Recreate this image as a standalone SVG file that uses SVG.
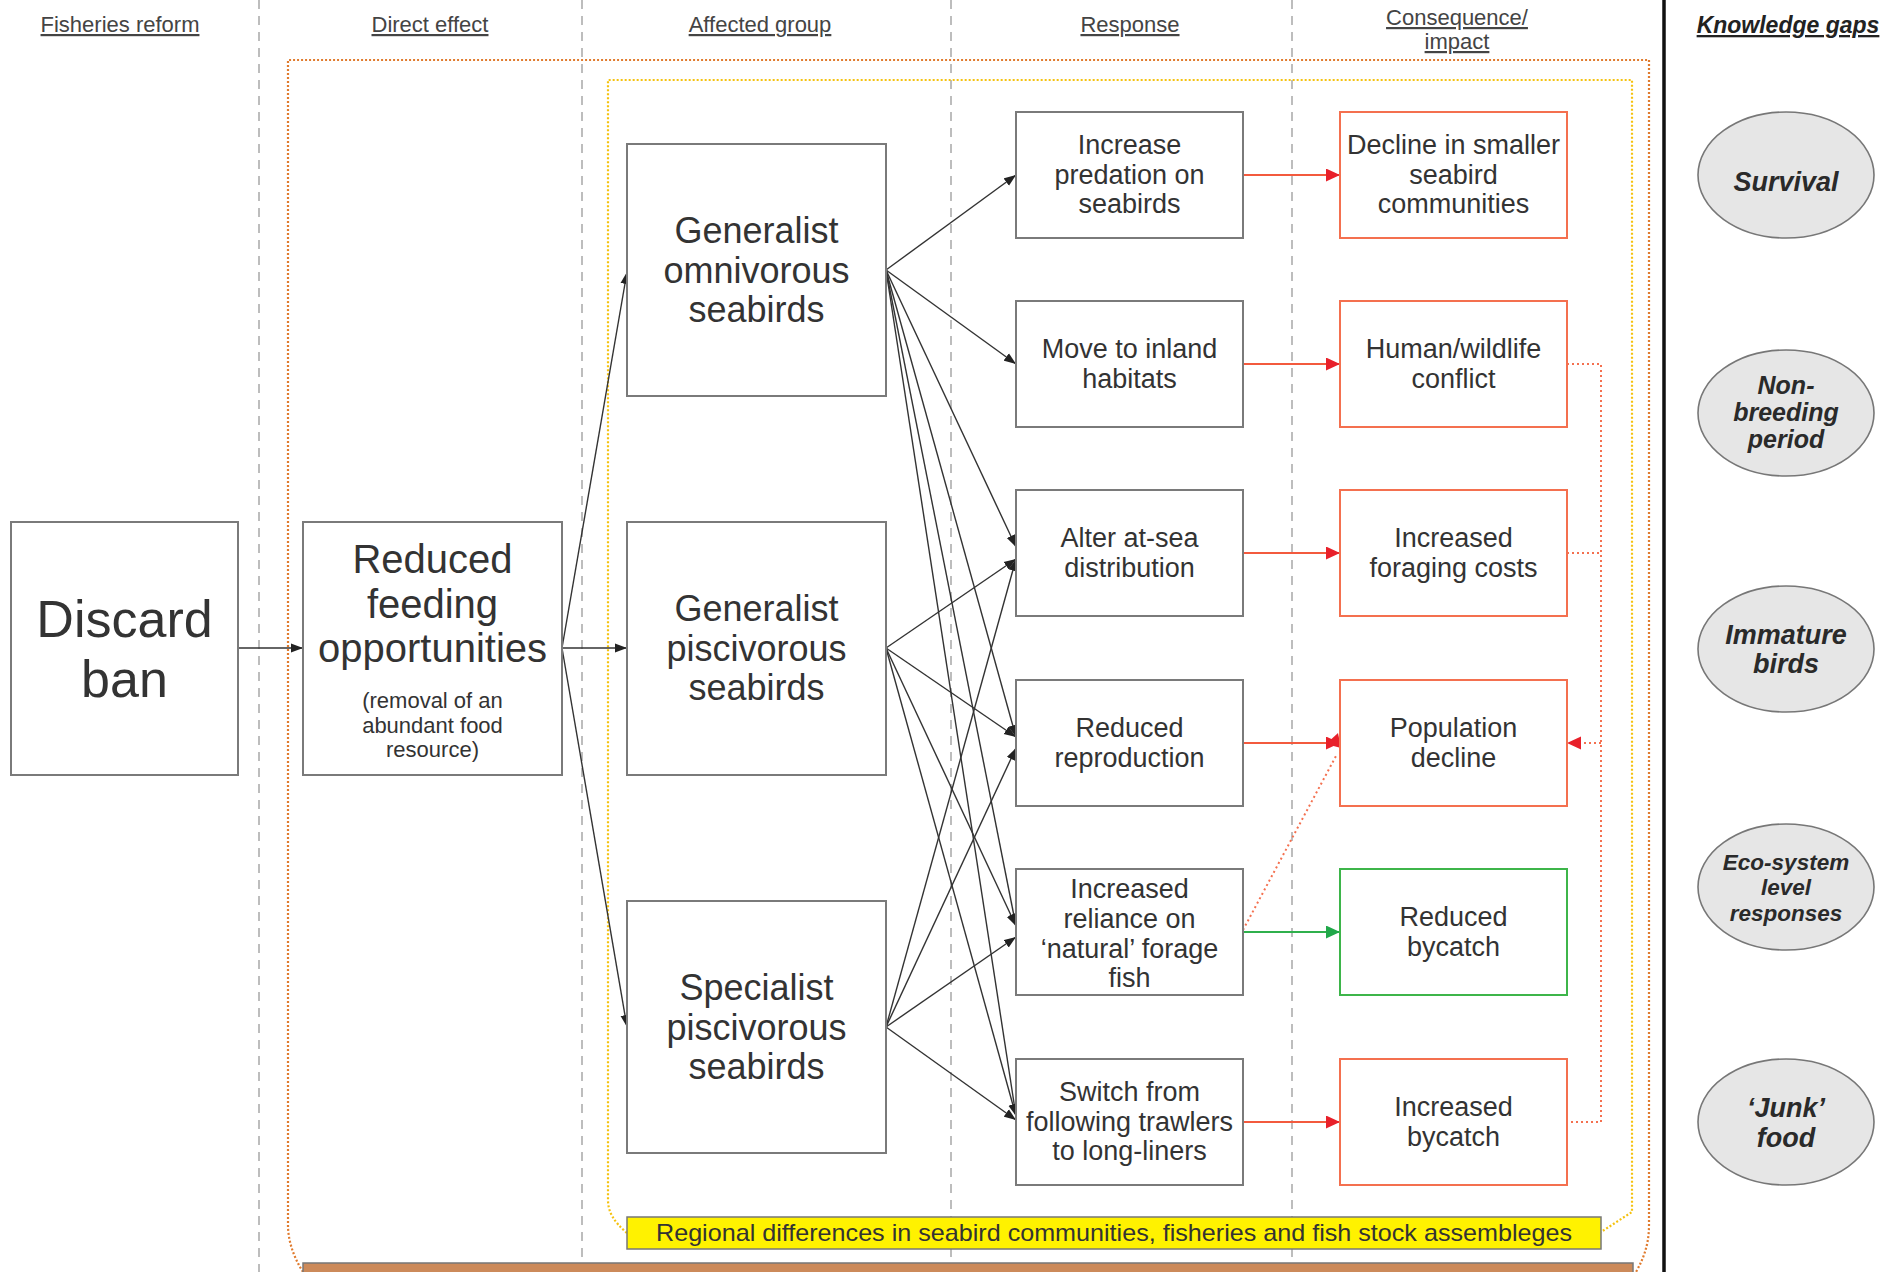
<svg xmlns="http://www.w3.org/2000/svg" width="1883" height="1272" viewBox="0 0 1883 1272">
<style>
text{font-family:"Liberation Sans",Arial,sans-serif;fill:#333;text-anchor:middle}
.hd{font-size:22px;fill:#444;text-decoration:underline}
.kg{font-size:23px;font-weight:bold;font-style:italic;text-decoration:underline;fill:#222}
.box{fill:#fff;stroke:#7a7a7a;stroke-width:2}
.rbox{fill:#fff;stroke:#f4704f;stroke-width:2}
.gbox{fill:#fff;stroke:#3db54a;stroke-width:2}
.ell{fill:#e6e6e6;stroke:#777;stroke-width:1.6}
.et{font-weight:bold;font-style:italic;fill:#2a2a2a}
.grp{font-size:36px}
.rsp{font-size:27px}
.col{fill:none;stroke:#a8a8a8;stroke-width:1.5;stroke-dasharray:9 7}
.blk{fill:none;stroke:#333;stroke-width:1.4;marker-end:url(#ab)}
.red{fill:none;stroke:#f35a3e;stroke-width:1.8;marker-end:url(#ar)}
.grn{fill:none;stroke:#2fb04c;stroke-width:1.8;marker-end:url(#ag)}
.rdot{fill:none;stroke:#f4704f;stroke-width:2;stroke-dasharray:2 3}
</style>
<defs>
<marker id="ab" markerUnits="userSpaceOnUse" markerWidth="13" markerHeight="10" refX="12" refY="5" orient="auto"><path d="M0,0.5 L12,5 L0,9.5 z" fill="#222"/></marker>
<marker id="ar" markerUnits="userSpaceOnUse" markerWidth="15" markerHeight="13" refX="14" refY="6.5" orient="auto"><path d="M0,0 L14,6.5 L0,13 z" fill="#e8202a"/></marker>
<marker id="ag" markerUnits="userSpaceOnUse" markerWidth="15" markerHeight="13" refX="14" refY="6.5" orient="auto"><path d="M0,0 L14,6.5 L0,13 z" fill="#21a84a"/></marker>
</defs>
<rect width="1883" height="1272" fill="#fff"/>

<g id="columns">
<line class="col" x1="259" y1="0" x2="259" y2="1272"/>
<line class="col" x1="582" y1="0" x2="582" y2="1272"/>
<line class="col" x1="951" y1="0" x2="951" y2="1272"/>
<line class="col" x1="1292" y1="0" x2="1292" y2="1272"/>
<line x1="1664" y1="0" x2="1664" y2="1272" stroke="#111" stroke-width="3.5"/>
</g>

<g id="headers">
<text class="hd" x="120" y="32">Fisheries reform</text>
<text class="hd" x="430" y="32">Direct effect</text>
<text class="hd" x="760" y="32">Affected group</text>
<text class="hd" x="1130" y="32">Response</text>
<text class="hd" x="1457" y="25">Consequence/</text>
<text class="hd" x="1457" y="49">impact</text>
<text class="kg" x="1788" y="33">Knowledge gaps</text>
</g>

<g id="frames">
<path d="M303,1272 C293,1256 288,1240 288,1225 L288,60 L1649,60 L1649,1225 C1649,1242 1645,1256 1636,1272" fill="none" stroke="#e07b2e" stroke-width="2.2" stroke-dasharray="2 2"/>
<path d="M627,1233 C614,1222 608,1212 608,1200 L608,80 L1632,80 L1632,1212 L1601,1232" fill="none" stroke="#f5c20f" stroke-width="2.2" stroke-dasharray="2 2"/>
</g>

<g id="regional">
<rect x="627" y="1217" width="974" height="32" fill="#fff200" stroke="#777" stroke-width="1.5"/>
<text x="1114" y="1241" font-size="24" textLength="916" lengthAdjust="spacingAndGlyphs">Regional differences in seabird communities, fisheries and fish stock assembleges</text>
</g>

<g id="policy-bar">
<rect x="303" y="1263" width="1330" height="20" fill="#cc8a5a" stroke="#777" stroke-width="1.5"/>
</g>

<g id="connectors">
<line class="blk" x1="238" y1="648" x2="303" y2="648"/>
<line class="blk" x1="562" y1="648" x2="627" y2="272"/>
<line class="blk" x1="562" y1="648" x2="627" y2="648"/>
<line class="blk" x1="562" y1="648" x2="627" y2="1027"/>

<line class="blk" x1="886" y1="270" x2="1016" y2="175"/>
<line class="blk" x1="886" y1="270" x2="1016" y2="364"/>
<line class="blk" x1="886" y1="270" x2="1016" y2="547"/>
<line class="blk" x1="886" y1="270" x2="1016" y2="737"/>
<line class="blk" x1="886" y1="270" x2="1016" y2="926"/>
<line class="blk" x1="886" y1="270" x2="1016" y2="1116"/>

<line class="blk" x1="886" y1="648" x2="1016" y2="559"/>
<line class="blk" x1="886" y1="648" x2="1016" y2="737"/>
<line class="blk" x1="886" y1="648" x2="1016" y2="926"/>
<line class="blk" x1="886" y1="648" x2="1016" y2="1116"/>

<line class="blk" x1="886" y1="1027" x2="1016" y2="559"/>
<line class="blk" x1="886" y1="1027" x2="1016" y2="748"/>
<line class="blk" x1="886" y1="1027" x2="1016" y2="937"/>
<line class="blk" x1="886" y1="1027" x2="1016" y2="1120"/>

<line class="red" x1="1243" y1="175" x2="1340" y2="175"/>
<line class="red" x1="1243" y1="364" x2="1340" y2="364"/>
<line class="red" x1="1243" y1="553" x2="1340" y2="553"/>
<line class="red" x1="1243" y1="743" x2="1340" y2="743"/>
<line class="grn" x1="1243" y1="932" x2="1340" y2="932"/>
<line class="red" x1="1243" y1="1122" x2="1340" y2="1122"/>

<line class="rdot" x1="1243" y1="930" x2="1336" y2="756"/>
<path d="M1326,744 L1341,748 L1338,733 z" fill="#e8202a"/>
<polyline class="rdot" points="1567,364 1601,364 1601,1122 1567,1122"/>
<line class="rdot" x1="1567" y1="553" x2="1601" y2="553"/>
<line class="rdot" x1="1601" y1="743" x2="1580" y2="743"/>
<path d="M1567,743 L1581,736.5 L1581,749.5 z" fill="#e8202a"/>
</g>

<g id="discard-ban">
<rect class="box" x="11" y="522" width="227" height="253"/>
<text x="124.5" y="637" font-size="52">Discard</text>
<text x="124.5" y="697" font-size="52">ban</text>
</g>

<g id="reduced-feeding">
<rect class="box" x="303" y="522" width="259" height="253"/>
<text x="432.5" y="573" font-size="40">Reduced</text>
<text x="432.5" y="618" font-size="40">feeding</text>
<text x="432.5" y="662" font-size="40">opportunities</text>
<text x="432.5" y="708" font-size="22">(removal of an</text>
<text x="432.5" y="733" font-size="22">abundant food</text>
<text x="432.5" y="757" font-size="22">resource)</text>
</g>

<g id="generalist-omnivorous">
<rect class="box" x="627" y="144" width="259" height="252"/>
<text class="grp" x="756.5" y="243">Generalist</text>
<text class="grp" x="756.5" y="283">omnivorous</text>
<text class="grp" x="756.5" y="322">seabirds</text>
</g>

<g id="generalist-piscivorous">
<rect class="box" x="627" y="522" width="259" height="253"/>
<text class="grp" x="756.5" y="621">Generalist</text>
<text class="grp" x="756.5" y="661">piscivorous</text>
<text class="grp" x="756.5" y="700">seabirds</text>
</g>

<g id="specialist-piscivorous">
<rect class="box" x="627" y="901" width="259" height="252"/>
<text class="grp" x="756.5" y="1000">Specialist</text>
<text class="grp" x="756.5" y="1040">piscivorous</text>
<text class="grp" x="756.5" y="1079">seabirds</text>
</g>

<g id="increase-predation">
<rect class="box" x="1016" y="112" width="227" height="126"/>
<text class="rsp" x="1129.5" y="154">Increase</text>
<text class="rsp" x="1129.5" y="184">predation on</text>
<text class="rsp" x="1129.5" y="213">seabirds</text>
</g>

<g id="move-inland">
<rect class="box" x="1016" y="301" width="227" height="126"/>
<text class="rsp" x="1129.5" y="358">Move to inland</text>
<text class="rsp" x="1129.5" y="388">habitats</text>
</g>

<g id="alter-distribution">
<rect class="box" x="1016" y="490" width="227" height="126"/>
<text class="rsp" x="1129.5" y="547">Alter at-sea</text>
<text class="rsp" x="1129.5" y="577">distribution</text>
</g>

<g id="reduced-reproduction">
<rect class="box" x="1016" y="680" width="227" height="126"/>
<text class="rsp" x="1129.5" y="737">Reduced</text>
<text class="rsp" x="1129.5" y="767">reproduction</text>
</g>

<g id="increased-reliance">
<rect class="box" x="1016" y="869" width="227" height="126"/>
<text class="rsp" x="1129.5" y="898">Increased</text>
<text class="rsp" x="1129.5" y="928">reliance on</text>
<text class="rsp" x="1129.5" y="958">‘natural’ forage</text>
<text class="rsp" x="1129.5" y="987">fish</text>
</g>

<g id="switch-longliners">
<rect class="box" x="1016" y="1059" width="227" height="126"/>
<text class="rsp" x="1129.5" y="1101">Switch from</text>
<text class="rsp" x="1129.5" y="1131">following trawlers</text>
<text class="rsp" x="1129.5" y="1160">to long-liners</text>
</g>

<g id="decline-smaller">
<rect class="rbox" x="1340" y="112" width="227" height="126"/>
<text class="rsp" x="1453.5" y="154">Decline in smaller</text>
<text class="rsp" x="1453.5" y="184">seabird</text>
<text class="rsp" x="1453.5" y="213">communities</text>
</g>

<g id="human-wildlife">
<rect class="rbox" x="1340" y="301" width="227" height="126"/>
<text class="rsp" x="1453.5" y="358">Human/wildlife</text>
<text class="rsp" x="1453.5" y="388">conflict</text>
</g>

<g id="foraging-costs">
<rect class="rbox" x="1340" y="490" width="227" height="126"/>
<text class="rsp" x="1453.5" y="547">Increased</text>
<text class="rsp" x="1453.5" y="577">foraging costs</text>
</g>

<g id="population-decline">
<rect class="rbox" x="1340" y="680" width="227" height="126"/>
<text class="rsp" x="1453.5" y="737">Population</text>
<text class="rsp" x="1453.5" y="767">decline</text>
</g>

<g id="reduced-bycatch">
<rect class="gbox" x="1340" y="869" width="227" height="126"/>
<text class="rsp" x="1453.5" y="926">Reduced</text>
<text class="rsp" x="1453.5" y="956">bycatch</text>
</g>

<g id="increased-bycatch">
<rect class="rbox" x="1340" y="1059" width="227" height="126"/>
<text class="rsp" x="1453.5" y="1116">Increased</text>
<text class="rsp" x="1453.5" y="1146">bycatch</text>
</g>

<g id="gap-survival">
<ellipse class="ell" cx="1786" cy="175" rx="88" ry="63"/>
<text class="et" x="1786" y="191" font-size="27">Survival</text>
</g>

<g id="gap-nonbreeding">
<ellipse class="ell" cx="1786" cy="413" rx="88" ry="63"/>
<text class="et" x="1786" y="394" font-size="25">Non-</text>
<text class="et" x="1786" y="421" font-size="25">breeding</text>
<text class="et" x="1786" y="448" font-size="25">period</text>
</g>

<g id="gap-immature">
<ellipse class="ell" cx="1786" cy="649" rx="88" ry="63"/>
<text class="et" x="1786" y="644" font-size="27">Immature</text>
<text class="et" x="1786" y="673" font-size="27">birds</text>
</g>

<g id="gap-ecosystem">
<ellipse class="ell" cx="1786" cy="887" rx="88" ry="63"/>
<text class="et" x="1786" y="870" font-size="22.5">Eco-system</text>
<text class="et" x="1786" y="895" font-size="22.5">level</text>
<text class="et" x="1786" y="921" font-size="22.5">responses</text>
</g>

<g id="gap-junk">
<ellipse class="ell" cx="1786" cy="1122" rx="88" ry="63"/>
<text class="et" x="1786" y="1117" font-size="27">‘Junk’</text>
<text class="et" x="1786" y="1147" font-size="27">food</text>
</g>
</svg>
